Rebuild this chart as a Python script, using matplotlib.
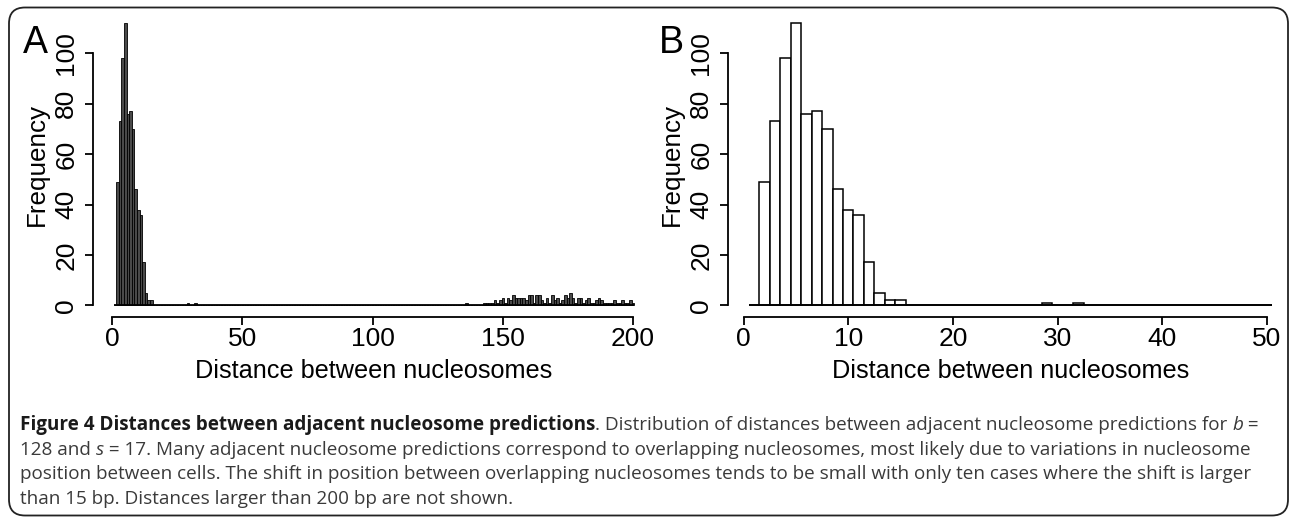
import matplotlib
matplotlib.use("Agg")
import matplotlib.pyplot as plt
import numpy as np
from matplotlib.patches import FancyBboxPatch
from matplotlib.transforms import IdentityTransform

# counts of distances between adjacent nucleosome predictions (1 bp bins)
short_dist = [2, 3, 4, 5, 6, 7, 8, 9, 10, 11, 12, 13, 14, 15]
short_counts = [49, 73, 98, 112, 76, 77, 70, 46, 38, 36, 17, 5, 2, 2]
mid_dist = [29, 32]
mid_counts = [1, 1]
long_dist = list(range(136, 201))
long_counts = [1, 0, 0, 0, 0, 0, 0, 1, 1, 1, 1, 2, 1, 2,
               3, 1, 3, 2, 4, 3, 3, 3, 3, 2, 4, 4, 1, 4,
               4, 2, 1, 3, 1, 4, 2, 3, 1, 2, 4, 3, 5, 3,
               1, 3, 3, 1, 2, 3, 1, 1, 2, 3, 2, 1, 1, 1,
               1, 2, 1, 1, 2, 1, 1, 2, 1]

yticks = [0, 20, 40, 60, 80, 100]
xticks_a = [0, 50, 100, 150, 200]
xticks_b = [0, 10, 20, 30, 40, 50]

caption_lines = [
    [("Figure 4 Distances between adjacent nucleosome predictions", "bold"),
     (". Distribution of distances between adjacent nucleosome predictions for ", "normal"),
     ("b", "italic"), (" =", "normal")],
    [("128 and ", "normal"), ("s", "italic"),
     (" = 17. Many adjacent nucleosome predictions correspond to overlapping nucleosomes, "
      "most likely due to variations in nucleosome", "normal")],
    [("position between cells. The shift in position between overlapping nucleosomes tends "
      "to be small with only ten cases where the shift is larger", "normal")],
    [("than 15 bp. Distances larger than 200 bp are not shown.", "normal")],
]

# full 1..200 histogram
centers = np.arange(1, 201)
counts = np.zeros(200)
for d, c in zip(short_dist + mid_dist + long_dist, short_counts + mid_counts + long_counts):
    counts[d - 1] = c

W, H = 1290, 518
fig = plt.figure(figsize=(W / 100, H / 100), dpi=100)
fig.patch.set_facecolor("white")
plt.rcParams["font.family"] = "Liberation Sans"

# rounded frame around figure + caption
frame = FancyBboxPatch((0.09, 0.025), 12.79, 5.08,
                       boxstyle="round,pad=0,rounding_size=0.16",
                       transform=fig.dpi_scale_trans, fill=False,
                       edgecolor="#222222", linewidth=1.3)
fig.patches.append(frame)

TICK_FS = 19
LABEL_FS = 18.2


def style_axes(ax, xticks, xmax):
    ax.set_ylim(-4.48, 116.48)
    for s in ("top", "right"):
        ax.spines[s].set_visible(False)
    ax.spines["left"].set_bounds(0, 100)
    ax.spines["bottom"].set_bounds(xticks[0], xticks[-1])
    for s in ("left", "bottom"):
        ax.spines[s].set_linewidth(1.3)
    ax.set_yticks(yticks)
    ax.set_yticklabels([str(v) for v in yticks], rotation=90, va="center", fontsize=TICK_FS)
    ax.set_xticks(xticks)
    ax.set_xticklabels([str(v) for v in xticks], fontsize=TICK_FS)
    ax.tick_params(axis="both", direction="out", length=5.5, width=1.3)
    ax.tick_params(axis="y", pad=5)
    ax.tick_params(axis="x", pad=2)
    ax.set_xlabel("Distance between nucleosomes", fontsize=LABEL_FS, labelpad=6)
    ax.set_ylabel("Frequency", fontsize=LABEL_FS + 0.5, labelpad=4)
    ax.hlines(0, 0.5, xmax + 0.5, color="black", linewidth=1.3, zorder=3)
    ax.patch.set_visible(False)


# panel A: all distances up to 200 bp
ax_a = fig.add_axes([92.8 / W, (H - 316.6) / H, (655.1 - 92.8) / W, 304.8 / H])
ax_a.bar(centers, counts, width=1.0, color="#4a4a4a", edgecolor="black", linewidth=0.6)
ax_a.set_xlim(-7.5, 208.5)
style_axes(ax_a, xticks_a, 200)

# panel B: zoom on first 50 bp
mask = centers <= 50
ax_b = fig.add_axes([727.8 / W, (H - 316.6) / H, (1293.2 - 727.8) / W, 304.8 / H])
ax_b.bar(centers[mask], counts[mask], width=1.0, color="white", edgecolor="black", linewidth=1.1)
ax_b.set_xlim(-1.5, 52.5)
style_axes(ax_b, xticks_b, 50)

fig.text(23 / W, (H - 53) / H, "A", fontsize=27, ha="left", va="baseline")
fig.text(659 / W, (H - 53) / H, "B", fontsize=27, ha="left", va="baseline")

# caption with mixed bold / italic runs
fig.canvas.draw()
renderer = fig.canvas.get_renderer()
cap_font = ["Open Sans", "DejaVu Sans"]
cap_size = 13.6
y0 = H - 430
for i, line in enumerate(caption_lines):
    x = 20
    y = y0 - i * 24.7
    for txt, sty in line:
        kw = dict(fontsize=cap_size, family=cap_font, transform=IdentityTransform(),
                  ha="left", va="baseline", color="#3a3a3a")
        if sty == "bold":
            kw.update(fontweight="bold", color="#1a1a1a")
        elif sty == "italic":
            kw.update(fontstyle="italic")
        t = fig.text(x, y, txt.replace(" ", "\u00a0"), **kw)
        x += t.get_window_extent(renderer).width

fig.savefig("out.png", dpi=100, facecolor="white")
